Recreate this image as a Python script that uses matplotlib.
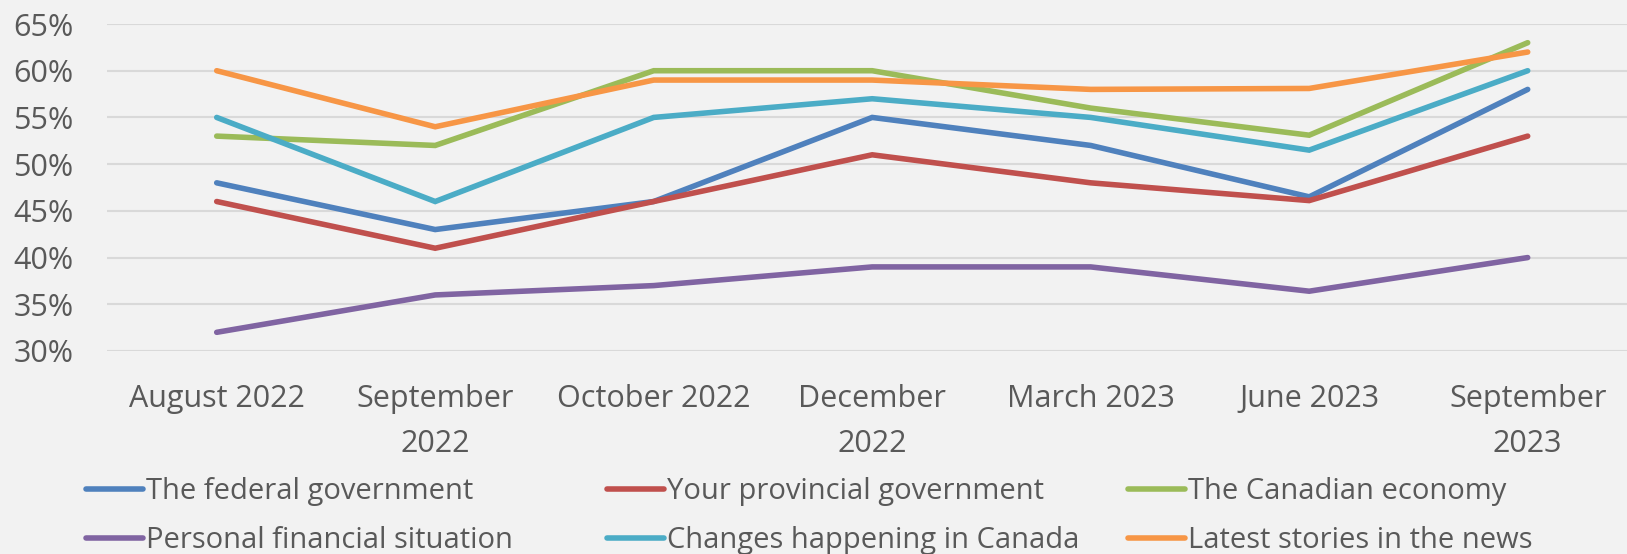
import matplotlib.pyplot as plt
from matplotlib.ticker import FuncFormatter

plt.rcParams['font.family'] = ['Open Sans', 'DejaVu Sans']

months = ['August 2022', 'September\n2022', 'October 2022', 'December\n2022',
          'March 2023', 'June 2023', 'September\n2023']

federal = [48, 43, 46, 55, 52, 46.5, 58]
provincial = [46, 41, 46, 51, 48, 46.1, 53]
economy = [53, 52, 60, 60, 56, 53.1, 63]
personal = [32, 36, 37, 39, 39, 36.4, 40]
changes = [55, 46, 55, 57, 55, 51.5, 60]
news = [60, 54, 59, 59, 58, 58.1, 62]

series = [
    ('The federal government', federal, '#4F81BD'),
    ('Your provincial government', provincial, '#C0504D'),
    ('The Canadian economy', economy, '#9BBB59'),
    ('Personal financial situation', personal, '#8064A2'),
    ('Changes happening in Canada', changes, '#4BACC6'),
    ('Latest stories in the news', news, '#F79646'),
]

W, H = 1627, 554
fig = plt.figure(figsize=(W / 100, H / 100), dpi=100)
fig.patch.set_facecolor('#f2f2f2')
ax = fig.add_axes([107 / W, 1 - 351 / H, 1520 / W, (351 - 24) / H])
ax.set_facecolor('none')

x = list(range(len(months)))
lines = {}
for name, vals, col in series:
    ln, = ax.plot(x, vals, color=col, lw=4.0, solid_capstyle='round',
                  solid_joinstyle='miter', label=name, zorder=3)
    lines[name] = ln

# category band of 218.5 px, first point at 216.7 px
step = 218.5
x0 = -(216.7 - 107) / step
ax.set_xlim(x0, x0 + 1520 / step)
ax.set_ylim(30, 65)
ax.set_yticks(range(30, 66, 5))
ax.yaxis.set_major_formatter(FuncFormatter(lambda v, p: '%d%%' % v))
ax.set_xticks(x)
ax.set_xticklabels(months, linespacing=1.62)
ax.grid(axis='y', color='#d9d9d9', lw=1.5, zorder=0)
ax.tick_params(axis='both', length=0, labelsize=22, labelcolor='#595959')
ax.tick_params(axis='x', pad=24)
ax.tick_params(axis='y', pad=24)
for s in ax.spines.values():
    s.set_visible(False)

# legend: three fixed columns, two rows
names = [s[0] for s in series]
cols_x = [86, 607, 1128]
for i, cx in enumerate(cols_x):
    hs = [lines[names[i]], lines[names[i + 3]]]
    fig.legend(hs, [names[i], names[i + 3]], loc='upper left',
               bbox_to_anchor=(cx / W, 1 - 477 / H), frameon=False,
               fontsize=21, handlelength=1.95, handletextpad=0.1,
               borderpad=0, borderaxespad=0, labelspacing=0.7,
               labelcolor='#595959')

fig.savefig('out.png', dpi=100, facecolor=fig.get_facecolor())
